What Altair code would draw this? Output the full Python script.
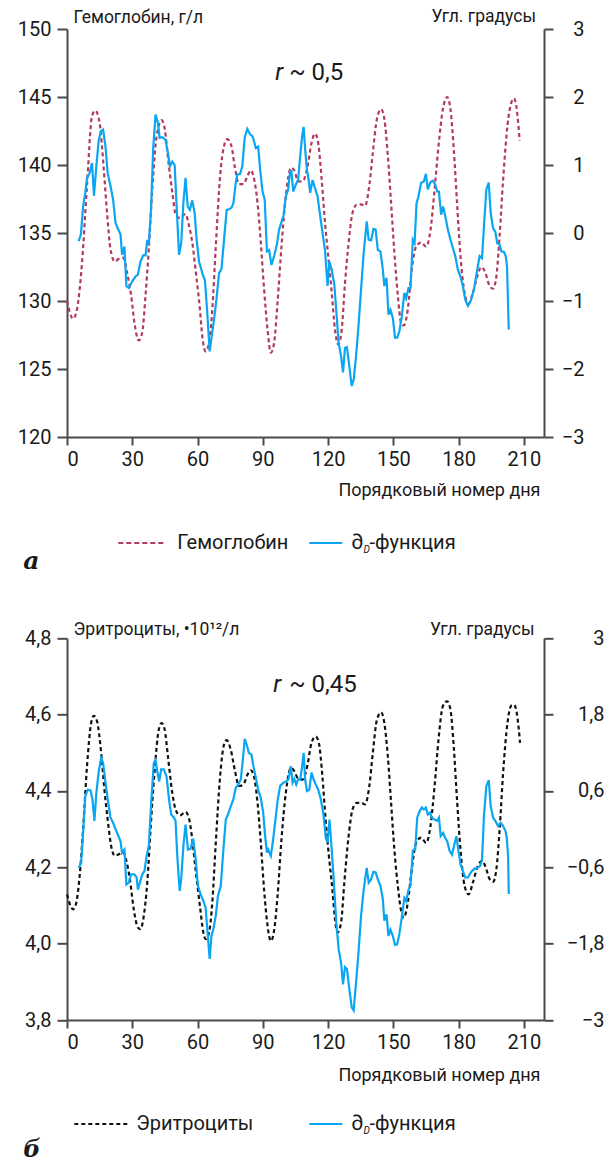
import altair as alt
import pandas as pd

# ---------- panel a: hemoglobin vs ∂D-function ----------
days_hb = [0, 2.8, 4.6, 6.9, 9.2, 11.5, 13, 15, 16.9, 18.4,
           20, 22, 23.8, 25.8, 27.6, 29.5, 31, 33, 34.6, 36.1,
           37.6, 39.2, 41.2, 43.5, 45, 46.5, 48.4, 49.9, 51.9, 54.5,
           56, 57.6, 59.1, 61.1, 62.2, 63.7, 65.3, 66.8, 68.4, 70.4,
           72.2, 73.7, 75.6, 77.1, 79.1, 81.1, 83, 84.5, 85.7, 87.6,
           89.1, 90.6, 92.2, 93.7, 95.2, 96.8, 98.6, 100.6, 103, 104.5,
           106.3, 108.3, 110.6, 112.4, 114, 115.5, 117.1, 118.6, 120.1, 121.7,
           123.2, 124.7, 126.3, 127.8, 129.3, 131.3, 133.3, 135.2, 137, 139,
           140.6, 142.5, 144.4, 145.9, 147.5, 149, 150.5, 152.1, 153.6, 154.8,
           156.7, 158.5, 160.5, 162.8, 165.1, 167.1, 169, 170.8, 172.8, 174.8,
           176.3, 177.8, 179.4, 180.9, 182.8, 184.6, 186.6, 188.6, 190.5, 192.3,
           194.3, 195.9, 197.4, 198.9, 200.5, 202.5, 204.3, 205.5, 206.6, 208.1]
hemoglobin = [130, 128.7, 129.4, 132.8, 138.5, 143.6, 144.0, 143.1, 139.7, 136.5,
              133.8, 132.9, 133.1, 133.2, 132.1, 130.4, 128.4, 127.1, 127.7, 130.4,
              133.8, 138.2, 142.1, 143.3, 142.6, 140.4, 138.0, 136.4, 136.1, 136.4,
              135.6, 134.3, 132.3, 129.4, 127.4, 126.3, 126.9, 129.4, 134.0, 139.2,
              141.4, 141.9, 141.4, 139.9, 138.6, 138.6, 139.2, 139.6, 139.2, 137.2,
              134.3, 130.9, 127.9, 126.2, 126.9, 129.9, 134.0, 137.7, 139.8, 139.6,
              138.8, 138.8, 139.9, 141.6, 142.3, 141.6, 138.9, 135.8, 133.3, 130.6,
              127.9, 126.8, 127.9, 131.3, 134.0, 136.5, 137.1, 137.1, 137.0, 138.5,
              140.9, 143.4, 144.1, 143.4, 140.7, 137.2, 133.6, 130.4, 128.4, 128.2,
              129.4, 132.3, 134.0, 134.3, 134.0, 135.2, 138.2, 141.4, 144.1, 145.0,
              144.1, 141.2, 137.0, 133.3, 130.6, 129.8, 130.6, 131.8, 132.5, 132.1,
              131.1, 130.9, 131.8, 134.8, 138.9, 142.9, 144.6, 144.9, 144.3, 141.8]

days_fa = [5.4, 6.4, 7.4, 8.4, 9.2, 10.4, 11.5, 12.4, 13.5, 14.6, 15.7, 16.6, 17.7, 18.7, 20,
           21.2, 22.3, 23.3, 24.6, 25.3, 26.4, 27.3, 28.4, 30, 31.5, 32.6, 33.8, 35, 36.1,
           36.9, 37.6, 38.7, 39.6, 40.7, 41.8, 42.6, 43.8, 45.3, 46.4, 47.3, 48.4, 49.5,
           50.4, 51.5, 52.5, 53.5, 54.5, 55.5, 56.5, 57.6, 58.7, 59.6, 60.7, 61.8, 62.7,
           63.4, 64.5, 65.6, 66.5, 67.6, 68.7, 69.9, 71, 72.2, 73.4, 74.5, 75.6, 76.5,
           77.6, 78.3, 79.6, 80.6, 81.7, 82.9, 84.2, 85.3, 86, 86.8, 87.9, 88.8, 89.9,
           90.9, 91.9, 92.9, 94, 95.2, 96.5, 97.5, 98.6, 99.5, 100.6, 101.7, 102.6, 103.2,
           104, 105.2, 106.3, 107.2, 108.1, 108.8, 109.5, 110.3, 111.1, 111.8, 112.9, 114,
           115.2, 116.4, 117.5, 118.6, 119.8, 120.6, 121.7, 122.9, 124, 124.9, 126, 126.9,
           127.8, 128.7, 129.8, 130.9, 131.8, 132.9, 134, 135.2, 136.4, 137.8, 138.7,
           139.8, 140.9, 141.9, 142.9, 144.1, 145.2, 145.9, 146.9, 147.8, 148.7, 149.8,
           150.8, 151.8, 152.8, 153.9, 155.1, 155.9, 157, 157.9, 159, 159.8, 160.7, 161.6,
           162.8, 164.1, 165, 165.9, 167.1, 168.2, 169.3, 170.2, 171, 172, 172.9, 173.9,
           175.1, 176.3, 177.4, 178.5, 179.7, 180.9, 182, 183.1, 184.3, 185.6, 187.1,
           188.6, 189.7, 190.8, 191.7, 192.8, 193.9, 194.8, 195.9, 196.9, 197.8, 198.9,
           199.7, 200.9, 201.7, 202.3, 203.1]
angle_a = [-0.12, -0.02, 0.39, 0.59, 0.81, 0.88, 1.03, 0.55, 0.99, 1.37, 1.50, 1.52, 1.27, 0.88, 0.69,
           0.49, 0.15, 0.07, -0.02, -0.32, -0.20, -0.78, -0.81, -0.71, -0.64, -0.61, -0.42, -0.33, -0.33,
           -0.10, -0.17, 0.39, 1.23, 1.74, 1.62, 1.40, 1.41, 1.37, 1.18, 0.98, 1.05, 1.00,
           0.39, -0.32, -0.15, 0.44, 0.81, 0.39, 0.34, 0.48, 0.29, -0.10, -0.42, -0.54, -0.64,
           -0.69, -1.18, -1.74, -1.52, -1.27, -0.98, -0.59, -0.53, -0.10, 0.34, 0.35, 0.37, 0.44,
           0.74, 0.86, 0.87, 0.98, 1.40, 1.53, 1.45, 1.42, 1.35, 1.25, 1.27, 0.93, 0.61,
           0.49, -0.27, -0.25, -0.47, -0.34, -0.17, 0.05, 0.16, 0.25, 0.54, 0.64, 0.91, 0.91,
           0.61, 0.71, 0.79, 1.13, 1.42, 1.56, 1.23, 0.93, 0.78, 0.59, 0.78, 0.66,
           0.54, 0.25, 0.00, -0.25, -0.78, -0.42, -0.54, -0.76, -1.23, -1.62, -1.81, -2.05,
           -1.69, -1.68, -1.96, -2.25, -2.16, -1.81, -1.37, -0.83, -0.29, 0.17, -0.10,
           -0.11, 0.06, 0.05, -0.25, -0.27, -0.54, -0.78, -0.66, -1.20, -1.13, -1.25,
           -1.54, -1.54, -1.45, -1.23, -0.88, -0.96, -0.81, -0.81, -0.10, -0.15, 0.44, 0.54,
           0.74, 0.76, 0.87, 0.64, 0.75, 0.77, 0.71, 0.61, 0.61, 0.27, 0.39, 0.25,
           0.05, -0.10, -0.22, -0.34, -0.54, -0.64, -0.78, -0.98, -1.07, -1.00, -0.83,
           -0.54, -0.34, -0.37, 0.10, 0.64, 0.74, 0.29, 0.07, 0.02, -0.15, -0.17,
           -0.27, -0.28, -0.34, -0.49, -1.42]

# ---------- panel б: erythrocytes vs ∂D-function ----------
days_er = [0, 2.8, 4.3, 5.8, 7.4, 9.2, 11.1, 12.3, 13.8, 15.7, 17.2, 18.7, 20.3, 22, 23.8,
           25.8, 27.3, 28.9, 30.7, 32.6, 33.8, 35.3, 36.9, 38.4, 40.2, 42.2, 43.5, 44.9, 46.4,
           48.4, 49.9, 51.9, 54.5, 56, 57.6, 59.1, 61.1, 62.7, 63.7, 65.3, 66.8, 68.4, 70.4,
           72.2, 73.4, 75.3, 77.1, 79.1, 81.1, 83, 84.5, 86, 87.6, 89.1, 90.6, 92.2, 93.7,
           95.2, 96.8, 98.6, 100.6, 103, 104.5, 106.3, 108.3, 110.6, 112.4, 114.3, 115.8,
           117.4, 118.9, 120.4, 122, 123.2, 124.4, 126, 127.5, 129.3, 131.3, 133.3, 135.2,
           137, 139, 140.6, 142.5, 144.4, 145.9, 147.5, 149, 150.5, 152.1, 153.6, 154.8,
           156.7, 158.5, 160.5, 162.8, 165.1, 167.1, 169, 170.8, 172.8, 174.8, 176.3, 177.8,
           179.4, 180.9, 182.8, 184.6, 186.6, 188.6, 190.8, 192.3, 194.3, 195.9, 197.4,
           198.9, 200.5, 202.5, 204.3, 205.5, 206.8, 208.3]
erythrocytes = [4.129, 4.090, 4.108, 4.177, 4.299, 4.465, 4.578, 4.597, 4.583, 4.500, 4.404, 4.325, 4.256, 4.230, 4.234,
                4.240, 4.217, 4.169, 4.090, 4.042, 4.038, 4.073, 4.160, 4.299, 4.447, 4.561, 4.578, 4.561, 4.491,
                4.395, 4.352, 4.336, 4.345, 4.330, 4.273, 4.195, 4.099, 4.029, 4.012, 4.029, 4.108, 4.264, 4.439,
                4.522, 4.533, 4.508, 4.456, 4.413, 4.417, 4.443, 4.454, 4.437, 4.369, 4.264, 4.142, 4.047, 4.007,
                4.034, 4.125, 4.273, 4.395, 4.461, 4.452, 4.432, 4.430, 4.469, 4.526, 4.543, 4.526,
                4.439, 4.325, 4.230, 4.142, 4.064, 4.029, 4.055, 4.160, 4.273, 4.352, 4.369, 4.369,
                4.365, 4.413, 4.500, 4.587, 4.606, 4.578, 4.491, 4.369, 4.247, 4.151, 4.086, 4.068,
                4.108, 4.195, 4.264, 4.278, 4.264, 4.308, 4.413, 4.535, 4.622, 4.635, 4.613, 4.517,
                4.369, 4.247, 4.151, 4.129, 4.160, 4.199, 4.217, 4.203, 4.169, 4.162, 4.195,
                4.299, 4.447, 4.578, 4.624, 4.626, 4.604, 4.526]

days_fb = [5.4, 6.5, 7.4, 8.4, 9.5, 10.8, 11.7, 12.6, 13.5, 14.6, 15.7, 16.6, 17.7, 18.7, 20,
           21.2, 22.3, 23.3, 24.6, 25.3, 26.4, 27.3, 28.4, 29.5, 31, 32, 32.6, 33.5, 34.6,
           35.6, 36.6, 37.6, 38.7, 39.9, 40.7, 41.5, 42.4, 43.3, 44.5, 45.8, 46.9, 47.9,
           49.2, 49.9, 50.7, 51.8, 52.5, 53.5, 54.5, 55.6, 56.8, 58, 59.1, 60.2, 61.4,
           62.7, 63.7, 64.5, 65.6, 66.4, 67.3, 68.4, 69.4, 70.7, 71.9, 73, 74, 75.3, 76.5,
           77.6, 78.7, 79.9, 80.8, 81.7, 82.6, 83.6, 84.8, 85.7, 86.8, 87.9, 89.1, 90.2,
           91.1, 91.9, 92.5, 93.7, 94.6, 95.5, 96.8, 98, 99.5, 100.8, 101.8, 102.9, 103.7,
           104.5, 105.4, 106.3, 107.2, 108, 108.8, 109.5, 110.3, 111.4, 112.4, 113.4, 114.4,
           115.5, 116.7, 117.9, 119, 119.8, 120.7, 121.7, 122.6, 123.8, 124.9, 126, 126.9,
           127.8, 128.7, 129.8, 130.9, 131.8, 132.9, 134, 135.2, 136.4, 137.8, 138.7,
           139.8, 140.9, 141.9, 142.9, 144.1, 145.2, 145.9, 146.9, 147.8, 148.7, 149.8,
           150.8, 151.8, 152.8, 153.9, 155.1, 156, 157, 157.9, 159, 160.1, 161, 162.1,
           163.2, 164.1, 165, 165.9, 166.9, 167.7, 169, 170.2, 171, 171.8, 172.9, 173.9,
           174.8, 175.9, 177, 177.9, 179, 180.1, 180.9, 182, 183.1, 184.3, 185.9, 187.4,
           188.6, 189.9, 190.8, 191.7, 192.8, 193.9, 194.8, 195.9, 196.9, 198.2, 199.4,
           200.5, 201.6, 202.2, 202.8, 203.1]
angle_b = [-0.61, -0.53, -0.06, 0.52, 0.62, 0.61, 0.47, 0.13, 0.57, 0.91, 1.12, 1.04, 0.73, 0.47, 0.18,
           0.10, 0.00, -0.08, -0.19, -0.37, -0.32, -0.87, -0.84, -0.71, -0.71, -0.76, -0.95, -0.84, -0.71,
           -0.66, -0.42, -0.27, 0.41, 1.04, 1.09, 0.91, 0.75, 0.94, 0.94, 0.82, 0.47, 0.23,
           0.18, 0.13, -0.42, -0.97, -0.79, -0.27, 0.07, -0.32, -0.31, -0.15, -0.45, -0.89, -1.02,
           -1.13, -1.23, -1.57, -2.04, -1.68, -1.57, -1.36, -1.05, -0.89, -0.32, 0.15, 0.23, 0.36, 0.47,
           0.65, 0.70, 0.78, 1.07, 1.42, 1.33, 1.20, 1.17, 0.99, 0.81, 0.62, 0.49, 0.26,
           -0.11, -0.37, -0.32, -0.42, -0.21, 0.05, 0.44, 0.68, 0.73, 0.75, 0.78, 0.99, 0.73,
           0.79, 0.70, 0.79, 0.78, 0.96, 1.20, 0.78, 0.60, 0.62, 0.89, 0.78, 0.70,
           0.62, 0.47, 0.23, -0.14, -0.21, 0.15, -0.32, -0.79, -1.47, -1.89, -2.10, -2.44,
           -2.17, -2.20, -2.51, -2.80, -2.85, -2.41, -1.94, -1.36, -0.95, -0.61, -0.84,
           -0.79, -0.67, -0.68, -0.79, -0.89, -1.10, -1.44, -1.34, -1.68, -1.58, -1.68,
           -1.82, -1.81, -1.65, -1.39, -1.08, -1.13, -0.95, -0.89, -0.34, -0.32, 0.18, 0.28,
           0.34, 0.31, 0.34, 0.23, 0.26, 0.18, 0.15, 0.13, 0.18, -0.11, -0.06, -0.14,
           -0.19, -0.34, -0.40, -0.27, -0.11, -0.37, -0.55, -0.66, -0.76, -0.76, -0.67, -0.62,
           -0.61, -0.58, -0.49, 0.21, 0.68, 0.77, 0.36, 0.18, 0.13, 0.05, 0.10,
           0.05, -0.03, -0.14, -0.42, -1.02]

day_ticks = [0, 30, 60, 90, 120, 150, 180, 210]
hb_ticks = [120, 125, 130, 135, 140, 145, 150]
ang_ticks_a = [-3, -2, -1, 0, 1, 2, 3]
er_ticks = [3.8, 4.0, 4.2, 4.4, 4.6, 4.8]
ang_ticks_b = [-3, -1.8, -0.6, 0.6, 1.8, 3]

FONT = "Roboto"
INK = "#1a1a1a"
AXIS = "#4a4a4a"
RED = "#b23a5e"
BLUE = "#0aa6f2"
BLACK = "#111111"

# page geometry: plot origin of the upper panel and of the lower panel
PAGE_W, PAGE_H = 611, 1166
ORIGIN_A = (66.7, 29)
ORIGIN_B = (66.7, 638.3)

COMMA_FMT = "replace(format(datum.value, '.1f'), '.', ',')"
MIXED_FMT = ("datum.value == round(datum.value) ? format(datum.value, 'd') : "
             "replace(format(datum.value, '.1f'), '.', ',')")


def x_channel(title_y):
    return alt.X(
        "day:Q",
        scale=alt.Scale(domain=[0, 219.3], nice=False, zero=False),
        axis=alt.Axis(values=day_ticks, title="Порядковый номер дня",
                      titleX=473, titleY=title_y, titleAlign="right",
                      titleBaseline="alphabetic", titleFontSize=18,
                      titleFontWeight="normal", labelFontSize=20,
                      tickSize=8, labelPadding=4),
    )


def text(t, x, y, size, align="left", baseline="middle", **kw):
    return alt.Chart(pd.DataFrame({"t": [t]})).mark_text(
        align=align, baseline=baseline, fontSize=size,
        font=kw.pop("font", FONT), color=INK, **kw
    ).encode(x=alt.value(x), y=alt.value(y), text="t:N")


def swatch(x1, x2, y, color, dash=None):
    props = dict(color=color, strokeWidth=2)
    if dash:
        props["strokeDash"] = dash
    return alt.Chart(pd.DataFrame({"k": [0]})).mark_rule(**props).encode(
        x=alt.value(x1), x2=alt.value(x2), y=alt.value(y))


def corner(x, y):
    # invisible zero-length rule that pins a page corner for the layout bounds
    return alt.Chart(pd.DataFrame({"k": [0]})).mark_rule(opacity=0, strokeWidth=0).encode(
        x=alt.value(x), x2=alt.value(x), y=alt.value(y), y2=alt.value(y))


def dfunc_legend(y):
    return [
        swatch(242.3, 275.3, y, BLUE),
        text("∂", 284.3, y, 21),
        text("D", 296.5, y + 7, 10, fontStyle="italic"),
        text("-функция", 302.5, y, 20),
    ]


def panel(days_l, vals_l, left_y, days_r, vals_r, right_y, dash_color,
          height, x_title_y, extras):
    left = alt.Chart(pd.DataFrame({"day": days_l, "v": vals_l})).mark_line(
        color=dash_color, strokeWidth=2.2, strokeDash=[4, 3], interpolate="monotone"
    ).encode(x=x_channel(x_title_y), y=left_y)
    right = alt.Chart(pd.DataFrame({"day": days_r, "a": vals_r})).mark_line(
        color=BLUE, strokeWidth=2.2
    ).encode(x=x_channel(x_title_y), y=right_y)
    return alt.layer(left, right, *extras).resolve_scale(y="independent").properties(
        width=477, height=height)


# panel a
y_hb = alt.Y("v:Q", scale=alt.Scale(domain=[120, 150], nice=False, zero=False),
             axis=alt.Axis(orient="left", values=hb_ticks, title="Гемоглобин, г/л",
                           titleAngle=0, titleX=6, titleY=-6.5, titleAlign="left",
                           titleBaseline="alphabetic", titleFontSize=17.5,
                           titleFontWeight="normal", labelFontSize=20,
                           tickSize=10, labelPadding=6))
y_ang_a = alt.Y("a:Q", scale=alt.Scale(domain=[-3, 3], nice=False, zero=False),
                axis=alt.Axis(orient="right", values=ang_ticks_a, title="Угл. градусы",
                              titleAngle=0, titleX=-8.5, titleY=-7.3, titleAlign="right",
                              titleBaseline="alphabetic", titleFontSize=17.5,
                              titleFontWeight="normal", labelFontSize=20,
                              labelAlign="right", tickSize=9, labelPadding=31))
extras_a = [
    corner(-ORIGIN_A[0], -ORIGIN_A[1]),
    text("r", 208.3, 51, 24, baseline="alphabetic", fontStyle="italic"),
    text("~ 0,5", 222.3, 51, 24, baseline="alphabetic"),
    swatch(51.3, 96.3, 514, RED, [5, 3]),
    text("Гемоглобин", 110.3, 514, 20),
    *dfunc_legend(514),
    text("a", -43.7, 532, 25, font="DejaVu Serif", fontStyle="italic", fontWeight="bold"),
]
panel_a = panel(days_hb, hemoglobin, y_hb, days_fa, angle_a, y_ang_a, RED,
                408, 58, extras_a)

# panel б
y_er = alt.Y("v:Q", scale=alt.Scale(domain=[3.8, 4.8], nice=False, zero=False),
             axis=alt.Axis(orient="left", values=er_ticks, title="Эритроциты, •10¹²/л",
                           labelExpr=COMMA_FMT,
                           titleAngle=0, titleX=6, titleY=-3.5, titleAlign="left",
                           titleBaseline="alphabetic", titleFontSize=17.5,
                           titleFontWeight="normal", labelFontSize=20,
                           tickSize=10, labelPadding=6))
y_ang_b = alt.Y("a:Q", scale=alt.Scale(domain=[-3, 3], nice=False, zero=False),
                axis=alt.Axis(orient="right", values=ang_ticks_b, title="Угл. градусы",
                              labelExpr=MIXED_FMT,
                              titleAngle=0, titleX=-10, titleY=-3.5, titleAlign="right",
                              titleBaseline="alphabetic", titleFontSize=17.5,
                              titleFontWeight="normal", labelFontSize=20,
                              labelAlign="right", tickSize=9, labelPadding=51))
extras_b = [
    corner(PAGE_W - ORIGIN_B[0] - 1, PAGE_H - ORIGIN_B[1] - 1),
    text("r", 206.3, 53.7, 24, baseline="alphabetic", fontStyle="italic"),
    text("~ 0,45", 222.3, 53.7, 24, baseline="alphabetic"),
    swatch(7.3, 63.3, 485.7, BLACK, [4, 3]),
    text("Эритроциты", 69.3, 485.7, 20),
    *dfunc_legend(485.7),
    text("б", -43.7, 512, 24, font="DejaVu Serif", fontStyle="italic", fontWeight="bold"),
]
panel_b = panel(days_er, erythrocytes, y_er, days_fb, angle_b, y_ang_b, BLACK,
                381.7, 60, extras_b)

chart = alt.vconcat(panel_a, panel_b, spacing=ORIGIN_B[1] - ORIGIN_A[1] - 408,
                    bounds="flush").properties(
    padding=0,
).configure_view(stroke=None).configure_axis(
    grid=False, domainColor=AXIS, domainWidth=2, tickColor=AXIS, tickWidth=2,
    labelFont=FONT, titleFont=FONT, labelColor=INK, titleColor=INK,
)

chart.save("out.html", embed_options={"renderer": "svg", "actions": False})
